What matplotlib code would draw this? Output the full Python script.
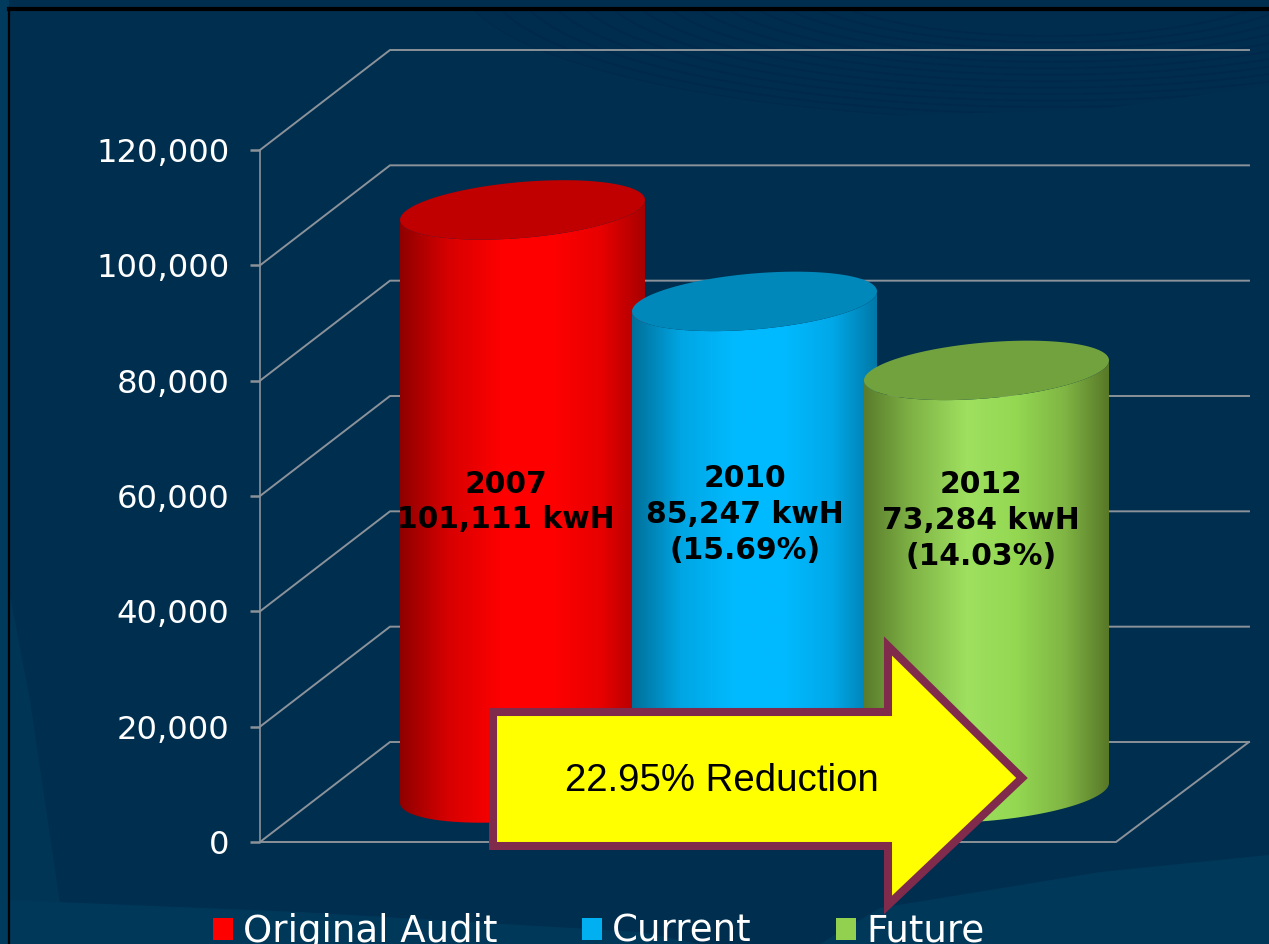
import numpy as np
import matplotlib
matplotlib.use('Agg')
import matplotlib.pyplot as plt
from matplotlib.colors import LinearSegmentedColormap
from matplotlib.patches import Patch, Polygon, Rectangle
from matplotlib.ticker import FuncFormatter

W, H = 1269, 944

# data
series = ['Original Audit', 'Current', 'Future']
values = [101111, 85247, 73284]
y_ticks = [0, 20000, 40000, 60000, 80000, 100000, 120000]
labels = ['2007\n101,111 kwH', '2010\n85,247 kwH\n(15.69%)', '2012\n73,284 kwH\n(14.03%)']
callout = '22.95% Reduction'

# styles
legend_colors = ['#ff0000', '#00b0f0', '#92d050']
top_colors = ['#c00000', '#0088bb', '#72a23e']
side_stops = [
    ['#900000', '#d80000', '#ff0000', '#ff0000', '#e80000', '#a80000'],
    ['#006f99', '#00a6e4', '#00baff', '#00baff', '#00a8e8', '#0078a8'],
    ['#5a7c2c', '#80b446', '#9fe060', '#94d852', '#80b544', '#587828'],
]
stop_pos = [0, 0.2, 0.42, 0.62, 0.82, 1]
label_px = [(506, 502), (745, 514.5), (981, 520.5)]
grid_col = '#8b9299'

# scales: 232 px per cylinder slot, 692 px for 120,000
val_per_px = 120000 / 692
px_per_cat = 232
x0_px, y0_px = 522.5, 842


def cat(px):
    return (px - x0_px) / px_per_cat


fig = plt.figure(figsize=(W / 100, H / 100), dpi=100)

# background, in pixels
bg = fig.add_axes([0, 0, 1, 1], zorder=0)
bg.set_xlim(0, W)
bg.set_ylim(H, 0)
bg.axis('off')
bg.add_patch(Rectangle((0, 0), W, H, color='#002e4f', lw=0))
bg.add_patch(Polygon([(0, 0), (9, 0), (9, H), (0, H)], color='#003a5c', lw=0))
bg.add_patch(Polygon([(9, 590), (30, 700), (66, H), (9, H)], color='#003556', lw=0))
bg.add_patch(Polygon([(9, 900), (300, 912), (640, 932), (700, H), (9, H)], color='#00385a', lw=0))
bg.add_patch(Polygon([(1269, 855), (1100, 872), (880, 908), (820, H), (1269, H)], color='#00385a', lw=0))

# dark swoosh with thin arcs, top right
t = np.linspace(np.pi, 2 * np.pi, 200)
ox = 1050 + 590 * np.cos(t)
oy = -20 - 140 * np.sin(t)
keep = (oy >= 8) & (ox < 900)
sx = np.concatenate([ox[keep], [1100, 1269, 1269]])
sy = np.concatenate([oy[keep], [109, 85, 8]])
swoosh = Polygon(np.column_stack([sx, sy]), color='#002a4a', alpha=0.4, lw=0)
bg.add_patch(swoosh)
for k in np.linspace(0, 0.6, 14):
    line, = bg.plot(1050 + 590 * (1 - k) * np.cos(t), -20 - 140 * (1 - k) * np.sin(t),
                    color='#00284a', lw=1.2, alpha=0.8)
    line.set_clip_path(swoosh)

bg.plot([9, 9], [8, H], color='black', lw=1.6)
bg.plot([9, W], [8.5, 8.5], color='black', lw=3)

# chart
ax = fig.add_axes([0, 0, 1, 1], zorder=1)
ax.patch.set_alpha(0)
depth_x = cat(390) - cat(260)
depth_y = 100 * val_per_px
x_left, x_right_back, x_right_front = cat(260), cat(1249), cat(1116)

for v in y_ticks:
    ax.plot([x_left, x_left + depth_x, x_right_back], [v, v + depth_y, v + depth_y],
            color=grid_col, lw=1.4, zorder=1)
ax.plot([x_left, x_right_front, x_right_back], [0, 0, depth_y], color=grid_col, lw=1.4, zorder=1)

half_w = 122.5 / px_per_cat
half_h = 28 * val_per_px
skew = 10 * val_per_px
base = 8500
ang = np.linspace(0, 2 * np.pi, 241)

for i, v in enumerate(values):
    ex = i + half_w * np.cos(ang)
    ey = half_h * np.sin(ang) + skew * np.cos(ang)
    lower = ang >= np.pi
    lx, ly = ex[lower], ey[lower]
    # side of the cylinder: front edge of the base, back up along the front edge of the top
    side_x = np.concatenate([lx, lx[::-1]])
    side_y = np.concatenate([ly + base, ly[::-1] + base + v])
    side = Polygon(np.column_stack([side_x, side_y]), transform=ax.transData, lw=0)
    cmap = LinearSegmentedColormap.from_list('s%d' % i, list(zip(stop_pos, side_stops[i])))
    im = ax.imshow(np.linspace(0, 1, 256)[None, :], cmap=cmap, aspect='auto',
                   extent=[i - half_w, i + half_w, 0, 125000], zorder=2 + i)
    im.set_clip_path(side)
    ax.fill(ex, ey + base + v, color=top_colors[i], lw=0, zorder=2 + i)

ax.set_xlim(cat(0), cat(W))
ax.set_ylim((y0_px - H) * val_per_px, y0_px * val_per_px)

for s in ['top', 'right', 'bottom']:
    ax.spines[s].set_visible(False)
ax.spines['left'].set_position(('data', x_left))
ax.spines['left'].set_bounds(0, 120000)
ax.spines['left'].set_color(grid_col)
ax.spines['left'].set_linewidth(1.2)
ax.set_xticks([])
ax.set_yticks(y_ticks)
ax.yaxis.set_major_formatter(FuncFormatter(lambda v, p: format(int(v), ',')))
ax.tick_params(axis='y', colors='white', labelsize=23.2, length=7, width=1.8,
               color=grid_col, pad=15)

handles = [Patch(color=c, lw=0) for c in legend_colors]
ax.legend(handles, series, ncol=3, frameon=False, fontsize=26.7, labelcolor='white',
          loc='lower left', bbox_to_anchor=(213 / W, -6 / H), borderpad=0, borderaxespad=0,
          handlelength=0.54, handleheight=0.56, handletextpad=0.27, columnspacing=2.28)

# overlay: value labels and callout arrow, in pixels
top = fig.add_axes([0, 0, 1, 1], zorder=2)
top.patch.set_alpha(0)
top.set_xlim(0, W)
top.set_ylim(H, 0)
top.axis('off')

for (px, py), s in zip(label_px, labels):
    top.text(px, py, s, ha='center', va='center', fontsize=21.4, fontweight='bold',
             color='black', linespacing=1.3)

arrow_pts = [(493, 712), (888, 712), (888, 646), (1022, 778), (888, 905), (888, 846), (493, 846)]
top.add_patch(Polygon(arrow_pts, closed=True, facecolor='#ffff00', edgecolor='#802a4c',
                      lw=5.8, joinstyle='miter'))
top.text(721.5, 781, callout, ha='center', va='center', fontsize=27.6,
         family='Liberation Sans', color='black')

fig.savefig('out.png', dpi=100)
